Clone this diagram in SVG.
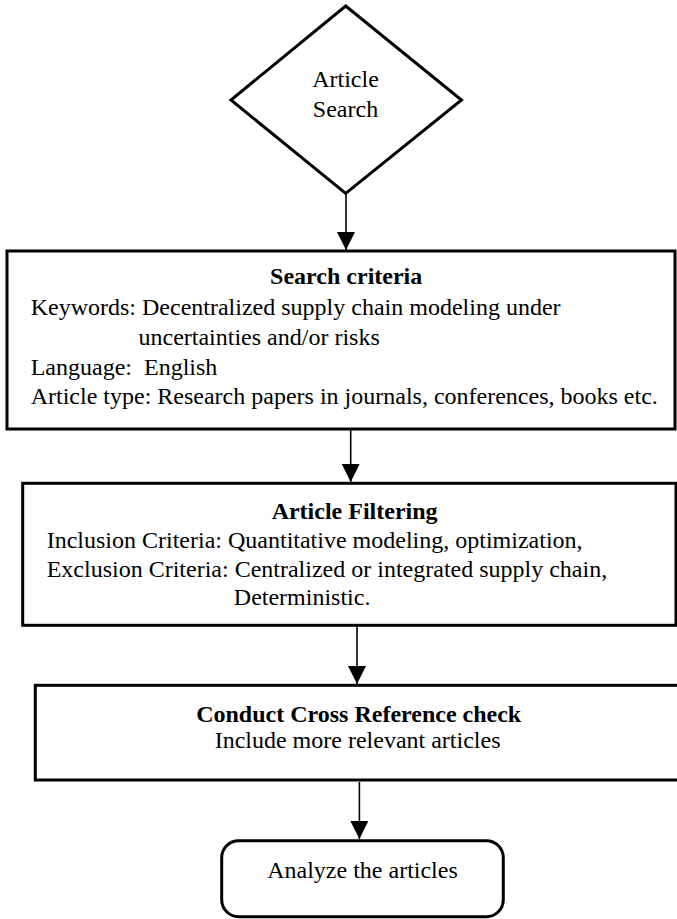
<svg xmlns="http://www.w3.org/2000/svg" width="677" height="919" viewBox="0 0 677 919">
<style>
.shape{fill:#fff;stroke:#000;stroke-width:3}
.t{font-family:"Liberation Serif","Times New Roman",serif;font-size:24px;fill:#000}
.b{font-weight:bold}
.c{text-anchor:middle}
.conn{stroke:#000;stroke-width:1.6;fill:none}
</style>
<defs>
<marker id="arr" markerUnits="userSpaceOnUse" markerWidth="18" markerHeight="18" viewBox="0 0 18 18" refX="18" refY="9" orient="auto">
<path d="M0,0 L18,9 L0,18 Z" fill="#000"/>
</marker>
</defs>
<rect width="677" height="919" fill="#fff"/>
<g id="connectors">
<line class="conn" x1="346" y1="194" x2="346" y2="250" marker-end="url(#arr)"/>
<line class="conn" x1="350.7" y1="430" x2="350.7" y2="482" marker-end="url(#arr)"/>
<line class="conn" x1="357" y1="627" x2="357" y2="684" marker-end="url(#arr)"/>
<line class="conn" x1="359.4" y1="782" x2="359.4" y2="839" marker-end="url(#arr)"/>
</g>
<g id="article-search">
<polygon class="shape" stroke-width="2.7" points="345.7,6 461.5,100 345.7,193.3 231,100"/>
<text class="t c" x="345.5" y="87">Article</text>
<text class="t c" x="345.5" y="117">Search</text>
</g>
<g id="search-criteria">
<rect class="shape" x="7" y="251" width="668" height="178"/>
<text class="t b c" x="346.2" y="284">Search criteria</text>
<text class="t" x="30.7" y="315">Keywords: Decentralized supply chain modeling under</text>
<text class="t" x="138.5" y="345">uncertainties and/or risks</text>
<text class="t" x="30.7" y="375" xml:space="preserve">Language:  English</text>
<text class="t" x="30.7" y="404">Article type: Research papers in journals, conferences, books etc.</text>
</g>
<g id="article-filtering">
<rect class="shape" x="22.7" y="483.3" width="653.3" height="142"/>
<text class="t b c" x="354.6" y="519">Article Filtering</text>
<text class="t" x="46.7" y="548">Inclusion Criteria: Quantitative modeling, optimization,</text>
<text class="t" x="46.7" y="576.5">Exclusion Criteria: Centralized or integrated supply chain,</text>
<text class="t" x="233.8" y="605">Deterministic.</text>
</g>
<g id="cross-reference">
<rect class="shape" x="35.3" y="685.3" width="660" height="94.7"/>
<text class="t b c" x="358.7" y="721.7">Conduct Cross Reference check</text>
<text class="t c" x="357.6" y="748.3">Include more relevant articles</text>
</g>
<g id="analyze">
<rect class="shape" x="221.7" y="840.7" width="281.6" height="76" rx="17" ry="17"/>
<text class="t c" x="362.5" y="878.3">Analyze the articles</text>
</g>
</svg>
